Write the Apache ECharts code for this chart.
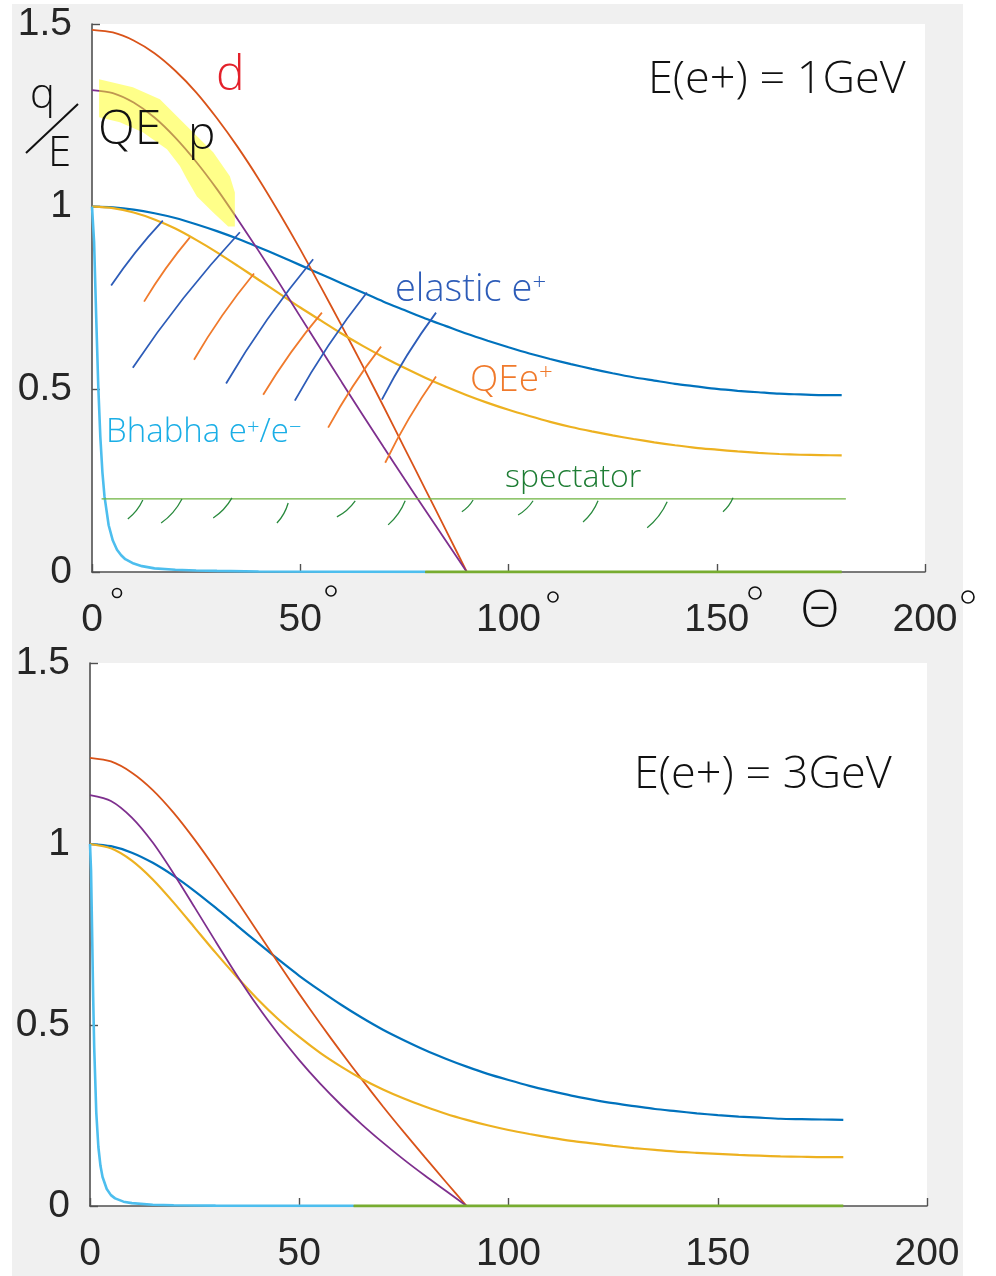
<!DOCTYPE html>
<html>
<head>
<meta charset="utf-8">
<script src="https://cdn.jsdelivr.net/npm/echarts@6/dist/echarts.min.js"></script>
<style>
  html, body { margin: 0; padding: 0; background: #ffffff; }
  #chart { width: 996px; height: 1276px; }
</style>
</head>
<body>
<div id="chart"></div>
<script>
// Scattering angle (deg) for the scattered positron curves
const scatterAngle = [0,5,10,15,20,25,30,35,40,45,50,55,60,65,70,75,80,85,90,
  95,100,105,110,115,120,125,130,135,140,145,150,155,160,165,170,175,180];
// Recoil angle (deg) for the recoiling nucleus / proton
const recoilAngle = [0,5,10,15,20,25,30,35,40,45,50,55,60,65,70,75,80,85,90];

// E(e+) = 1 GeV
const elastic1 = [1,0.998,0.992,0.982,0.969,0.952,0.933,0.912,0.889,0.865,0.840,0.815,0.790,0.765,0.740,0.717,0.694,0.673,0.652,
  0.633,0.615,0.598,0.583,0.569,0.556,0.544,0.533,0.524,0.515,0.508,0.501,0.496,0.492,0.488,0.486,0.484,0.484];
const qeE1 = [1,0.996,0.984,0.965,0.940,0.909,0.875,0.838,0.800,0.762,0.724,0.688,0.652,0.619,0.588,0.559,0.532,0.507,0.484,
  0.463,0.444,0.427,0.411,0.397,0.385,0.374,0.364,0.355,0.347,0.340,0.335,0.330,0.326,0.323,0.321,0.320,0.319];
const deut1 = [1.484,1.477,1.455,1.420,1.372,1.313,1.242,1.163,1.076,0.982,0.883,0.779,0.673,0.564,0.453,0.340,0.227,0.114,0];
const qeP1 = [1.319,1.311,1.285,1.244,1.189,1.123,1.048,0.965,0.879,0.790,0.699,0.609,0.519,0.430,0.342,0.255,0.170,0.085,0];
const bhabhaAngle1 = [0,0.5,1,1.5,2,2.5,3,4,5,6,7,8,10,12,15,20,25,30,40,60,80];
const bhabha1 = [1,0.904,0.701,0.510,0.370,0.273,0.207,0.128,0.086,0.061,0.046,0.035,0.023,0.016,0.010,0.006,0.004,0.003,0.0015,0.0007,0.0004];
const zeroTail1 = [80, 180];
const spectatorX = [2.3, 181];
const spectatorLevel = 0.2;

// E(e+) = 3 GeV
const elastic3 = [1,0.994,0.976,0.948,0.912,0.870,0.824,0.776,0.728,0.681,0.636,0.595,0.556,0.520,0.487,0.458,0.431,0.407,0.385,
  0.365,0.348,0.332,0.318,0.305,0.294,0.284,0.276,0.268,0.262,0.256,0.251,0.247,0.244,0.241,0.240,0.239,0.238];
const qeE3 = [1,0.988,0.954,0.902,0.838,0.769,0.700,0.634,0.572,0.516,0.467,0.423,0.385,0.351,0.322,0.297,0.275,0.255,0.238,
  0.223,0.210,0.199,0.189,0.180,0.173,0.166,0.160,0.155,0.150,0.147,0.144,0.141,0.139,0.137,0.136,0.135,0.135];
const deut3 = [1.238,1.228,1.197,1.149,1.086,1.012,0.931,0.845,0.758,0.671,0.586,0.504,0.425,0.349,0.275,0.204,0.135,0.067,0];
const qeP3 = [1.135,1.119,1.073,1.004,0.918,0.825,0.731,0.639,0.553,0.475,0.403,0.338,0.279,0.225,0.175,0.128,0.084,0.042,0];
const bhabhaAngle3 = [0,0.25,0.5,0.75,1,1.5,2,2.5,3,4,5,6,8,10,15,20,30,45,63];
const bhabha3 = [1,0.926,0.758,0.581,0.439,0.258,0.163,0.111,0.080,0.047,0.030,0.021,0.012,0.008,0.0035,0.002,0.001,0.0004,0.0003];
const zeroTail3 = [63, 180];

// Axis ticks
const xTicks = { min: 0, max: 200, step: 50 };
const yTicks = { min: 0, max: 1.5, step: 0.5 };

// Hand-drawn hatch strokes [x0, y0, x1, y1]
const hatchElastic = [
  [4.6,0.784,17.0,0.962],[9.8,0.559,35.5,0.930],[32.2,0.516,53.1,0.856],
  [48.7,0.469,66.0,0.765],[69.6,0.472,82.6,0.710]];
const hatchQE = [
  [12.5,0.740,23.5,0.916],[24.5,0.581,38.9,0.817],[41.1,0.485,55.2,0.710],
  [56.7,0.395,69.4,0.617],[70.4,0.299,82.6,0.535]];
const hatchSpectator = [
  [8.6,0.145,12.2,0.197],[16.6,0.134,21.6,0.200],[29.1,0.148,33.6,0.203],
  [44.4,0.134,47.1,0.189],[58.8,0.151,63.2,0.195],[71.1,0.129,75.2,0.195],
  [88.8,0.165,91.5,0.197],[102.3,0.156,105.9,0.195],[117.9,0.137,121.5,0.195],
  [133.3,0.121,138.1,0.192],[151.5,0.165,153.9,0.203]];
// Highlighter band over the QE proton curve
const highlightQEp = [
  [1.7,1.349],[9.8,1.327],[16.3,1.294],[22.8,1.220],[29.1,1.149],[33.1,1.083],[34.3,1.039],
  [34.3,0.946],[32.7,0.946],[29.1,0.984],[25.2,1.028],[22.8,1.075],[21.1,1.111],[18.0,1.157],
  [12.2,1.204],[6.7,1.231],[1.7,1.245]];

const C = {
  blue: '#0072BD', red: '#D95319', yellow: '#EDB120', purple: '#7E2F8E',
  green: '#77AC30', cyan: '#4DBEEE', axis: '#505050', text: '#262626'
};

const zip = (xs, ys) => xs.map((x, i) => [x, ys[i]]);
const seg = arr => arr.map(s => ({ coords: [[s[0], s[1]], [s[2], s[3]]] }));

function axisPair(i) {
  const common = {
    gridIndex: i, type: 'value', splitLine: { show: false },
    axisLine: { show: true, onZero: false, lineStyle: { color: C.axis, width: 1.6 } },
    axisTick: { show: true, inside: true, length: 8, lineStyle: { color: C.axis, width: 1.4 } },
    axisLabel: { color: C.text, fontSize: 39, fontFamily: 'Liberation Sans' }
  };
  return {
    x: Object.assign({}, common, { min: xTicks.min, max: xTicks.max, interval: xTicks.step,
      axisLabel: Object.assign({}, common.axisLabel, { margin: 29 }) }),
    y: Object.assign({}, common, { min: yTicks.min, max: yTicks.max, interval: yTicks.step,
      axisLabel: Object.assign({}, common.axisLabel, { margin: 20 }) })
  };
}
const a0 = axisPair(0), a1 = axisPair(1);

function curve(idx, data, color, width, z) {
  return { type: 'line', xAxisIndex: idx, yAxisIndex: idx, data, showSymbol: false, symbol: 'none',
    smooth: 0.25, lineStyle: { color, width }, z: z || 2, silent: true, animation: false };
}

const series = [
  // 1 GeV panel
  curve(0, zip(scatterAngle, elastic1), C.blue, 2.2),
  curve(0, zip(recoilAngle, deut1), C.red, 1.8),
  curve(0, zip(scatterAngle, qeE1), C.yellow, 2.2),
  curve(0, zip(recoilAngle, qeP1), C.purple, 1.8),
  Object.assign(curve(0, zip(bhabhaAngle1, bhabha1), C.cyan, 2.6), { smooth: false }),
  curve(0, zip(zeroTail1, [0, 0]), C.green, 3.2, 3),
  curve(0, zip(spectatorX, [spectatorLevel, spectatorLevel]), '#6db33f', 1.2, 3),
  { type: 'lines', coordinateSystem: 'cartesian2d', xAxisIndex: 0, yAxisIndex: 0, silent: true, z: 4,
    data: seg(hatchElastic), lineStyle: { color: '#2d5cb8', width: 1.8, curveness: 0.04, opacity: 1 } },
  { type: 'lines', coordinateSystem: 'cartesian2d', xAxisIndex: 0, yAxisIndex: 0, silent: true, z: 4,
    data: seg(hatchQE), lineStyle: { color: '#f07a2c', width: 1.8, curveness: 0.04, opacity: 1 } },
  { type: 'lines', coordinateSystem: 'cartesian2d', xAxisIndex: 0, yAxisIndex: 0, silent: true, z: 4,
    data: seg(hatchSpectator), lineStyle: { color: '#2a8a3e', width: 1.3, curveness: -0.12, opacity: 1 } },
  { type: 'custom', xAxisIndex: 0, yAxisIndex: 0, silent: true, z: 5, data: [[0, 0]],
    renderItem: (params, api) => ({
      type: 'polygon',
      shape: { points: highlightQEp.map(p => api.coord(p)) },
      style: { fill: 'rgba(255,255,20,0.5)' }
    }) },
  // 3 GeV panel
  curve(1, zip(scatterAngle, elastic3), C.blue, 2.2),
  curve(1, zip(recoilAngle, deut3), C.red, 1.8),
  curve(1, zip(scatterAngle, qeE3), C.yellow, 2.2),
  curve(1, zip(recoilAngle, qeP3), C.purple, 1.8),
  Object.assign(curve(1, zip(bhabhaAngle3, bhabha3), C.cyan, 2.6), { smooth: false }),
  curve(1, zip(zeroTail3, [0, 0]), C.green, 3.2, 3)
];

const hand = (text, x, y, size, color, extra) => Object.assign({
  type: 'text', x, y, z: 100, silent: true,
  style: Object.assign({ text, fill: color, font: '300 ' + size + 'px "Open Sans", sans-serif',
    align: 'left', verticalAlign: 'middle' }, extra || {})
});
const degree = (cx, cy, r) => ({ type: 'circle', z: 100, silent: true,
  shape: { cx, cy, r }, style: { fill: 'none', stroke: '#111', lineWidth: 1.6 } });

const graphic = [
  { type: 'rect', z: -10, silent: true, shape: { x: 12, y: 4, width: 951, height: 1272 }, style: { fill: '#f0f0f0' } },
  hand('d', 216, 76, 48, '#e3202a'),
  hand('q', 30, 96, 42, '#111'),
  hand('E', 48, 154, 42, '#111'),
  { type: 'line', z: 100, silent: true, shape: { x1: 26, y1: 153, x2: 78, y2: 104 }, style: { stroke: '#111', lineWidth: 2 } },
  hand('QE', 98, 130, 48, '#111'),
  hand('p', 188, 136, 46, '#111'),
  hand('E(e+) = 1GeV', 648, 80, 45, '#111'),
  { type: 'text', x: 395, y: 290, z: 100, silent: true, style: {
    text: '{a|elastic e}{s|+}', verticalAlign: 'middle', rich: {
      a: { fill: '#2d5cb8', font: '300 38px "Open Sans", sans-serif' },
      s: { fill: '#2d5cb8', font: '300 24px "Open Sans", sans-serif', verticalAlign: 'top' } } } },
  { type: 'text', x: 470, y: 380, z: 100, silent: true, style: {
    text: '{a|QEe}{s|+}', verticalAlign: 'middle', rich: {
      a: { fill: '#f07a2c', font: '300 37px "Open Sans", sans-serif' },
      s: { fill: '#f07a2c', font: '300 24px "Open Sans", sans-serif', verticalAlign: 'top' } } } },
  { type: 'text', x: 106, y: 433, z: 100, silent: true, style: {
    text: '{a|Bhabha e}{s|+}{a|/e}{s|−}', verticalAlign: 'middle', rich: {
      a: { fill: '#1aaee6', font: '300 33px "Open Sans", sans-serif' },
      s: { fill: '#1aaee6', font: '300 22px "Open Sans", sans-serif', verticalAlign: 'top' } } } },
  hand('spectator', 505, 478, 32, '#1e7d34'),
  hand('Θ', 800, 612, 52, '#111'),
  degree(117, 593, 4.5), degree(331, 591, 5), degree(553, 597, 5), degree(755, 593, 6), degree(968, 597, 6),
  hand('E(e+) = 3GeV', 634, 775, 45, '#111')
];

const chart = echarts.init(document.getElementById('chart'), null, { renderer: 'canvas' });
chart.setOption({
  animation: false,
  backgroundColor: 'transparent',
  grid: [
    { left: 92, top: 24, width: 833, height: 548, show: true, backgroundColor: '#ffffff', borderWidth: 0, z: 0 },
    { left: 90, top: 663, width: 837, height: 543, show: true, backgroundColor: '#ffffff', borderWidth: 0, z: 0 }
  ],
  xAxis: [a0.x, a1.x],
  yAxis: [a0.y, a1.y],
  series,
  graphic
});
</script>
</body>
</html>
